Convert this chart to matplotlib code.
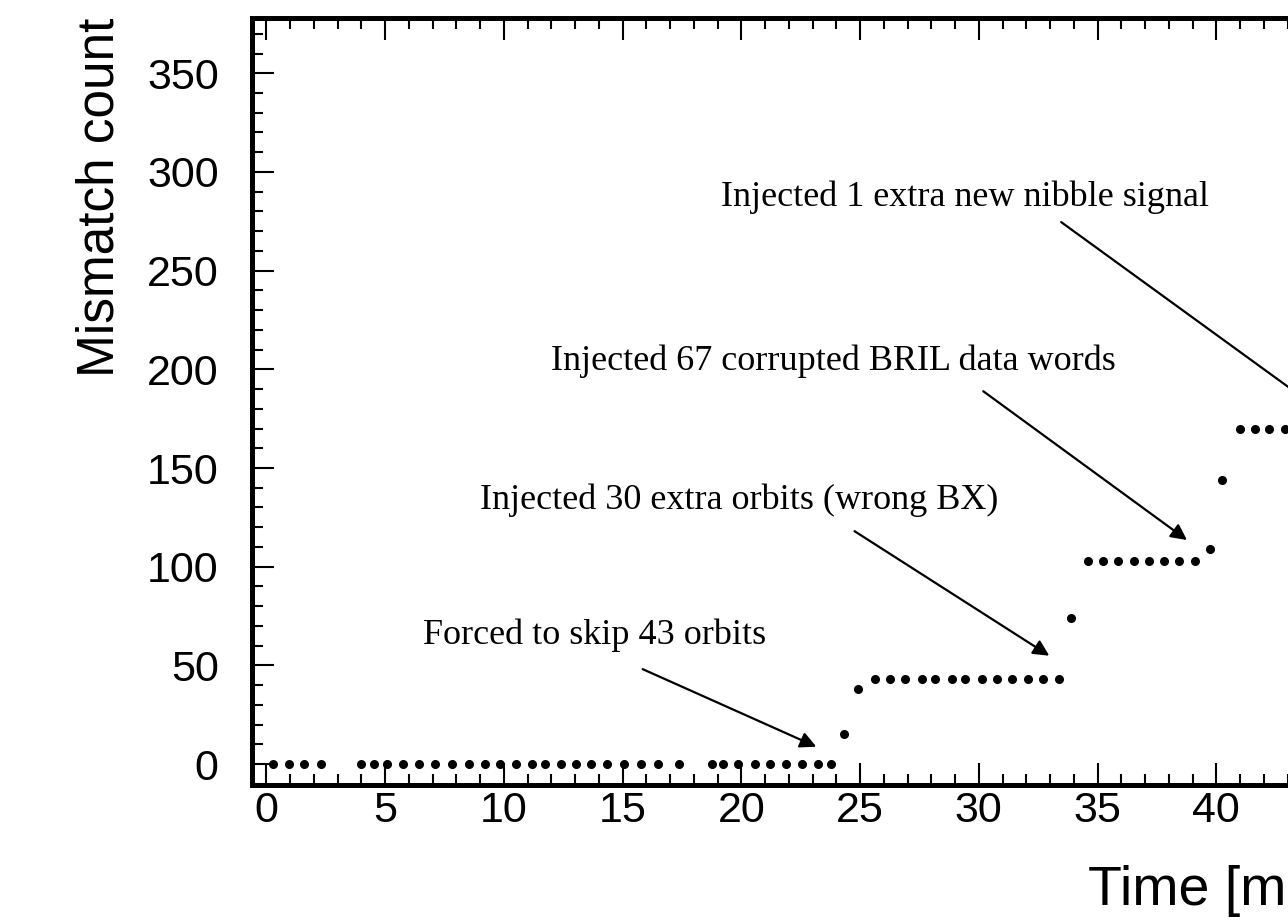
import numpy as np
import matplotlib
matplotlib.use("Agg")
from matplotlib import pyplot as plt
from matplotlib.ticker import MultipleLocator

# data (time in minutes, cumulative mismatches)
t_flat0 = [0.3, 0.95, 1.6, 2.3, 4.0, 4.53, 5.08, 5.75, 6.45, 7.12, 7.83, 8.53,
           9.2, 9.83, 10.5, 11.17, 11.75, 12.42, 13.05, 13.67, 14.33, 15.05, 15.78,
           16.5, 17.37, 18.75, 19.25, 19.88, 20.58, 21.22, 21.88, 22.55, 23.22, 23.78]
t_step1 = [24.34, 24.93]
n_step1 = [15, 38]
t_flat1 = [25.63, 26.26, 26.89, 27.59, 28.17, 28.88, 29.44, 30.15, 30.78, 31.41,
           32.08, 32.72, 33.36]
t_step2 = [33.88]
n_step2 = [74]
t_flat2 = [34.61, 35.25, 35.88, 36.53, 37.17, 37.8, 38.45, 39.09]
t_step3 = [39.73, 40.24]
n_step3 = [109, 144]
t_flat3 = [41.0, 41.63, 42.2, 42.9]

levels = [0, 43, 103, 170]

time = np.concatenate([t_flat0, t_step1, t_flat1, t_step2, t_flat2, t_step3, t_flat3])
count = np.concatenate([np.full(len(t_flat0), levels[0]), n_step1,
                        np.full(len(t_flat1), levels[1]), n_step2,
                        np.full(len(t_flat2), levels[2]), n_step3,
                        np.full(len(t_flat3), levels[3])])

# annotations: text, text anchor (x, baseline y), arrow start, arrow tip
notes = [
    ("Forced to skip 43 orbits", (13.83, 60.8), (15.85, 48.1), (23.16, 8.8)),
    ("Injected 30 extra orbits (wrong BX)", (19.93, 129.0), (24.77, 118.0), (32.97, 54.9)),
    ("Injected 67 corrupted BRIL data words", (23.89, 199.6), (30.19, 188.9), (38.77, 113.5)),
    ("Injected 1 extra new nibble signal", (29.43, 283.0), (33.47, 274.6), (44.3, 180.0)),
]

fig = plt.figure(figsize=(12.88, 9.21), dpi=100)
# axes runs past the right edge of the picture, like the reference
ax = fig.add_axes([252 / 1288, 1 - 785 / 921, (1335 - 252) / 1288, (785 - 18) / 921])

ax.plot(time, count, 'o', color='black', ms=5.5, clip_on=False)

for txt, pos, start, tip in notes:
    ax.text(pos[0], pos[1], txt, ha='center', va='baseline',
            fontsize=26, family='Liberation Serif')
    ax.annotate("", xy=tip, xytext=start,
                arrowprops=dict(arrowstyle='-|>', color='black', lw=1.6,
                                mutation_scale=24, shrinkA=0, shrinkB=0),
                annotation_clip=False)

ax.set_xlim(-0.6, 45)
ax.set_ylim(-10.6, 378)
ax.xaxis.set_major_locator(MultipleLocator(5))
ax.xaxis.set_minor_locator(MultipleLocator(1))
ax.yaxis.set_major_locator(MultipleLocator(50))
ax.yaxis.set_minor_locator(MultipleLocator(10))

for s in ax.spines.values():
    s.set_linewidth(3.6)
ax.tick_params(which='both', direction='in', top=True, right=True, width=1.5,
               labelsize=31)
ax.tick_params(which='major', length=16)
ax.tick_params(which='minor', length=8)
ax.tick_params(axis='x', pad=4)
ax.tick_params(axis='y', pad=24)
for lab in ax.get_xticklabels() + ax.get_yticklabels():
    lab.set_family('Liberation Sans')

ax.set_xlabel("Time [min]", fontsize=40, family='Liberation Sans')
ax.xaxis.label.set_ha('left')
ax.set_ylabel("Mismatch count", fontsize=37, family='Liberation Sans', loc='top')
ax.xaxis.set_label_coords((1088 - 252) / 1083, -0.104)
ax.yaxis.set_label_coords(-0.118, 1.0)

fig.savefig("out.png", dpi=100)
